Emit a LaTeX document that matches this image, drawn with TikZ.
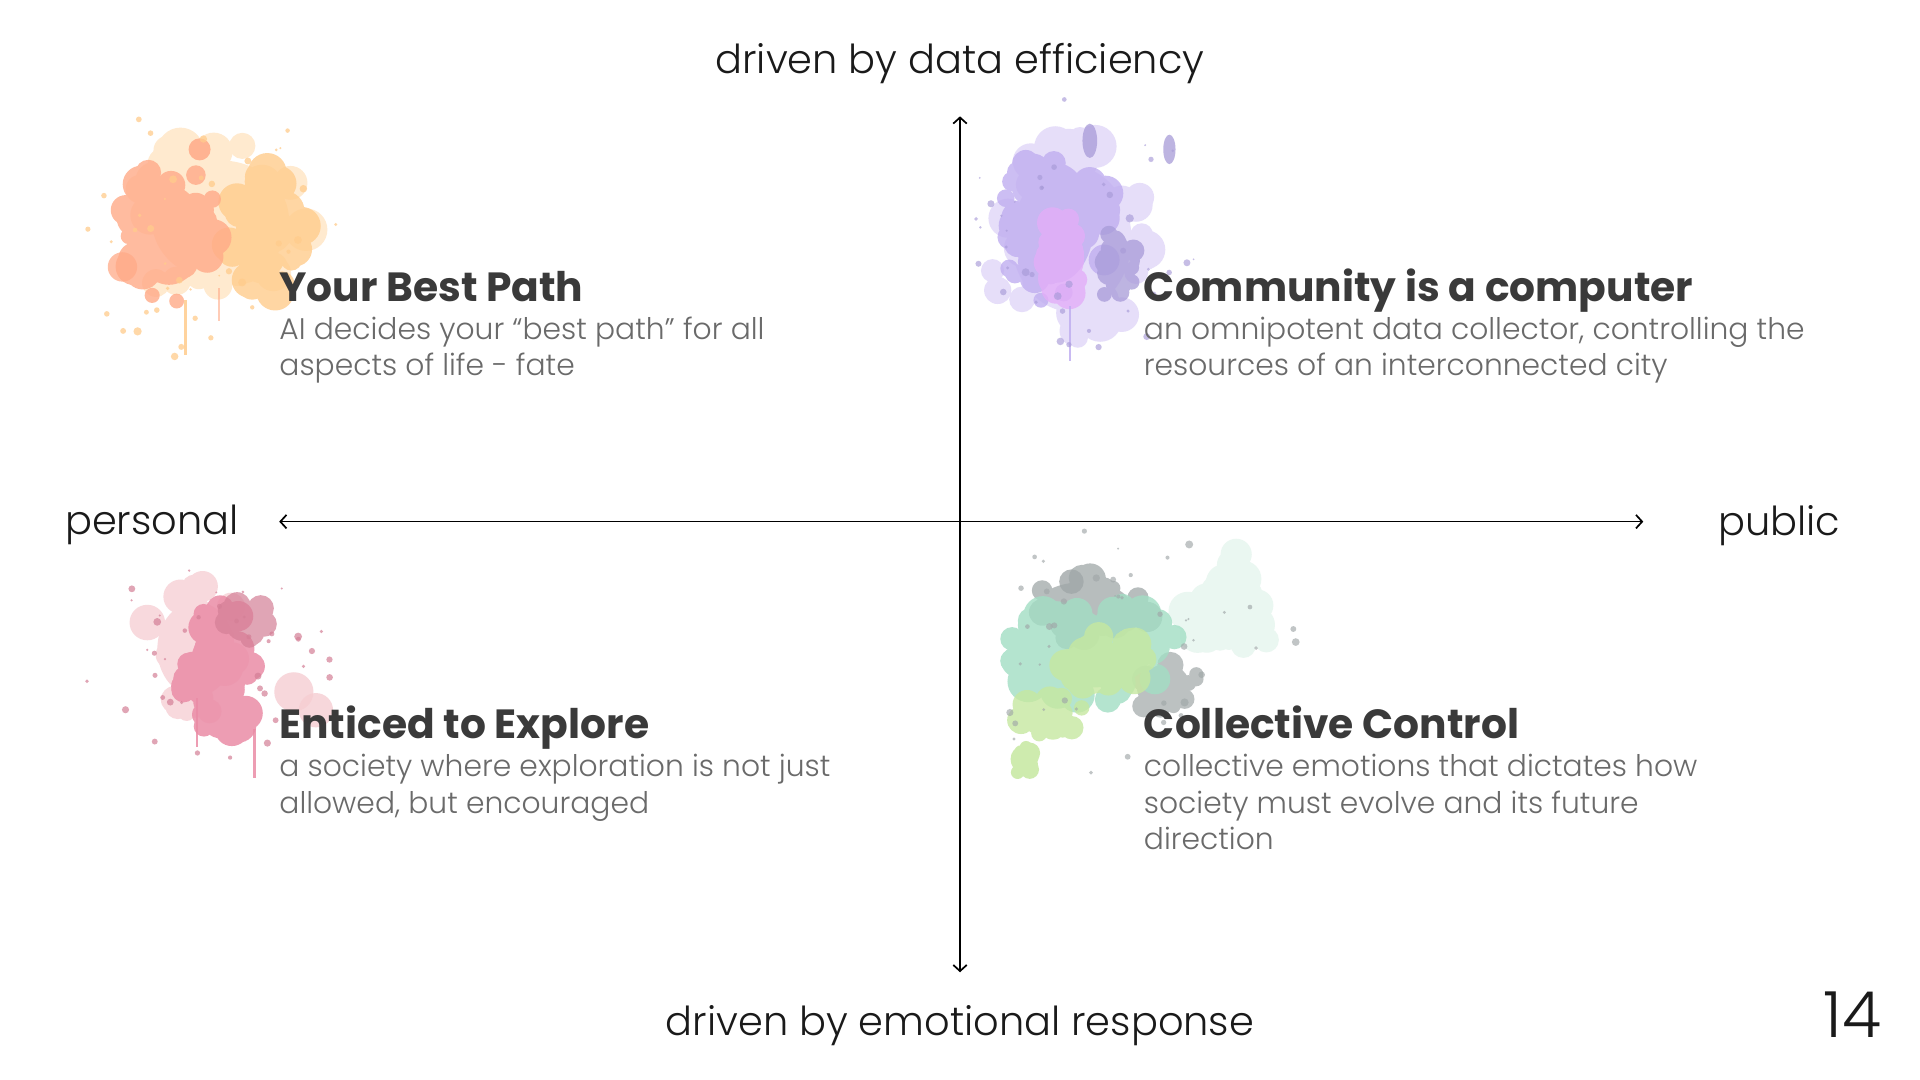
\documentclass[tikz,border=0pt]{standalone}
\usepackage{fontspec}
\setmainfont{Poppins}
\newfontfamily\plight{Poppins Light}
\newfontfamily\pbold{Poppins Bold}
\usetikzlibrary{arrows.meta}
\definecolor{titlegray}{HTML}{3A3A3A}
\definecolor{descgray}{HTML}{6A6A6A}
\definecolor{axisgray}{HTML}{1A1A1A}
% splatter colours
\definecolor{osalmon}{HTML}{FFAA88}
\definecolor{opeach}{HTML}{FFCC8C}
\definecolor{olight}{HTML}{FFE2BC}
\definecolor{plav}{HTML}{C0AEF0}
\definecolor{ppink}{HTML}{E3AEF8}
\definecolor{pdark}{HTML}{A89BD8}
\definecolor{plight}{HTML}{DED3F8}
\definecolor{kpink}{HTML}{EA8CA6}
\definecolor{kdark}{HTML}{D47F96}
\definecolor{klight}{HTML}{F6CDD2}
\definecolor{gmint}{HTML}{A2DEC4}
\definecolor{glime}{HTML}{C6E8A0}
\definecolor{ggray}{HTML}{A0A7A8}
\definecolor{gpale}{HTML}{DDF2E8}
% #1 cx, #2 cy, #3 rx, #4 ry, #5 colour, #6 count, #7 rmin, #8 rmax, #9 opacity
\newcommand\splat[9]{%
  \begin{scope}[transparency group, opacity=#9]
  \fill[#5] (#1,#2) ellipse ({0.7*#3} and {0.7*#4});
  \foreach \i in {1,...,#6}{%
    \pgfmathsetmacro\ang{rnd*360}%
    \pgfmathsetmacro\rr{sqrt(rnd)}%
    \pgfmathsetmacro\px{#1+#3*\rr*cos(\ang)}%
    \pgfmathsetmacro\py{#2+#4*\rr*sin(\ang)}%
    \pgfmathsetmacro\rad{#7+rnd*(#8-#7)}%
    \fill[#5] (\px,\py) circle (\rad);
  }
  \end{scope}}
% spots: individual small drops
\newcommand\spots[7]{%
  \foreach \i in {1,...,#6}{%
    \pgfmathsetmacro\ang{rnd*360}%
    \pgfmathsetmacro\rr{0.35+0.65*rnd}%
    \pgfmathsetmacro\px{#1+#3*\rr*cos(\ang)}%
    \pgfmathsetmacro\py{#2+#4*\rr*sin(\ang)}%
    \pgfmathsetmacro\rad{0.8+rnd*2.6}%
    \fill[#5, fill opacity=#7] (\px,\py) circle (\rad);
  }}
\begin{document}
\begin{tikzpicture}[x=1pt,y=-1pt,
  axislab/.style={font=\plight\fontsize{32.6}{38}\selectfont, text=axisgray, inner sep=0},
  ttl/.style={anchor=base west, font=\pbold\fontsize{33.3}{38}\selectfont, text=titlegray, inner sep=0},
  desc/.style={anchor=base west, align=left, font=\plight\fontsize{24.3}{30}\selectfont, text=descgray, inner sep=0},
  axisline/.style={line width=1.4pt, draw=black, {Straight Barb[length=5pt,width=11pt]}-{Straight Barb[length=5pt,width=11pt]}}]
\useasboundingbox (0,0) rectangle (1568,882);
\fill[white] (0,0) rectangle (1568,882);
\pgfmathsetseed{11}

% ---------- splatter 1 : orange ----------
\splat{180}{180}{80}{70}{olight}{40}{8}{20}{0.7}
\splat{215}{190}{32}{55}{opeach}{40}{6}{16}{0.8}
\splat{138}{192}{42}{58}{osalmon}{45}{6}{17}{0.8}
\fill[osalmon, fill opacity=0.85] (163,122) circle (9);
\fill[osalmon, fill opacity=0.8] (160,143) circle (8);
\fill[osalmon, fill opacity=0.75] (100,218) circle (12);
\fill[opeach, fill opacity=0.85] (150,245) rectangle (152.5,290);
\fill[osalmon, fill opacity=0.6] (178,235) rectangle (180,262);
\spots{165}{190}{115}{105}{opeach}{40}{0.75}

% ---------- splatter 2 : purple ----------
\splat{875}{195}{70}{85}{plight}{40}{8}{18}{0.75}
\splat{862}{182}{45}{70}{plav}{45}{6}{15}{0.8}
\splat{912}{215}{16}{38}{pdark}{16}{5}{11}{0.75}
\splat{870}{210}{22}{32}{ppink}{18}{7}{14}{0.8}
\fill[pdark, fill opacity=0.75] (890,115) ellipse (6 and 14);
\fill[pdark, fill opacity=0.75] (955,122) ellipse (5 and 12);
\fill[plav, fill opacity=0.85] (873,250) rectangle (875,295);
\spots{880}{190}{100}{110}{pdark}{40}{0.65}

% ---------- splatter 3 : pink ----------
\splat{160}{530}{45}{55}{klight}{24}{7}{16}{0.75}
\fill[klight, fill opacity=0.8] (240,565) circle (16);
\fill[klight, fill opacity=0.8] (258,580) circle (14);
\splat{178}{548}{33}{52}{kpink}{45}{6}{15}{0.85}
\splat{198}{508}{20}{22}{kdark}{14}{5}{11}{0.7}
\fill[kpink, fill opacity=0.85] (160,570) rectangle (162,610);
\fill[kpink, fill opacity=0.85] (207,595) rectangle (209,635);
\spots{170}{545}{100}{85}{kdark}{40}{0.7}

% ---------- splatter 4 : green / gray ----------
\splat{1005}{495}{40}{45}{gpale}{24}{7}{16}{0.6}
\splat{885}{495}{55}{28}{ggray}{26}{5}{13}{0.75}
\splat{952}{560}{28}{25}{ggray}{14}{5}{11}{0.7}
\splat{892}{532}{70}{42}{gmint}{50}{7}{17}{0.8}
\splat{902}{540}{35}{22}{glime}{18}{7}{14}{0.8}
\splat{855}{582}{30}{18}{glime}{14}{6}{12}{0.8}
\splat{833}{620}{11}{14}{glime}{7}{5}{9}{0.85}
\fill[ggray, fill opacity=0.8] (875,475) circle (10);
\spots{910}{530}{150}{105}{ggray}{45}{0.65}

% ---------- axes ----------
\coordinate (vtop) at (784,95);
\coordinate (vbot) at (784,794);
\coordinate (hleft) at (228,426);
\coordinate (hright) at (1342,426);
\draw[axisline] (vbot) -- (vtop);
\draw[axisline] (hleft) -- (hright);

\node[axislab] (ltop) at (784,52) {driven by data efficiency};
\node[axislab] (lbot) at (784,838) {driven by emotional response};
\node[axislab] (lpers) at (124,429) {personal};
\node[axislab] (lpub) at (1453,429) {public};
\node[font=\plight\fontsize{52}{60}\selectfont, text=axisgray, inner sep=0] (pnum) at (1513,829) {14};

% ---------- quadrant texts ----------
\node[ttl] (t1) at (228,246) {Your Best Path};
\node[desc] (d1) at (228,307) {AI decides your “best path” for all\\aspects of life - fate};

\node[ttl] (t2) at (934,246) {Community is a computer};
\node[desc] (d2) at (934,307) {an omnipotent data collector, controlling the\\resources of an interconnected city};

\node[ttl] (t3) at (228,603) {Enticed to Explore};
\node[desc] (d3) at (228,664) {a society where exploration is not just\\allowed, but encouraged};

\node[ttl] (t4) at (934,603) {Collective Control};
\node[desc] (d4) at (934,694) {collective emotions that dictates how\\society must evolve and its future\\direction};
\end{tikzpicture}
\end{document}
